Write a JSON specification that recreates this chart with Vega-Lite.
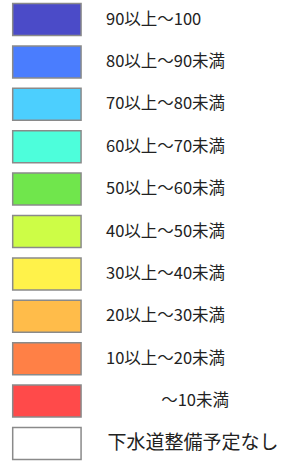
{
  "$schema": "https://vega.github.io/schema/vega-lite/v6.json",
  "width": 293,
  "height": 463,
  "autosize": {"type": "fit", "contains": "padding"},
  "padding": 0,
  "background": "white",
  "config": {"view": {"stroke": null}},
  "data": {
    "values": [
      {"row": 0, "label": "90以上～100", "color": "#4b4bc8"},
      {"row": 1, "label": "80以上～90未満", "color": "#4a7dfe"},
      {"row": 2, "label": "70以上～80未満", "color": "#4ccffe"},
      {"row": 3, "label": "60以上～70未満", "color": "#4dfedb"},
      {"row": 4, "label": "50以上～60未満", "color": "#70e64c"},
      {"row": 5, "label": "40以上～50未満", "color": "#cdfd46"},
      {"row": 6, "label": "30以上～40未満", "color": "#fff24a"},
      {"row": 7, "label": "20以上～30未満", "color": "#ffbc4a"},
      {"row": 8, "label": "10以上～20未満", "color": "#ff8046"},
      {"row": 9, "label": "～10未満", "color": "#ff4a4a"},
      {"row": 10, "label": "下水道整備予定なし", "color": "#ffffff"}
    ]
  },
  "encoding": {
    "y": {
      "field": "row",
      "type": "ordinal",
      "axis": null,
      "scale": {"paddingInner": 0.245, "paddingOuter": 0.083}
    }
  },
  "layer": [
    {
      "mark": {"type": "rect", "stroke": "#8a8a8a", "strokeWidth": 1.5},
      "encoding": {
        "x": {"datum": 13, "type": "quantitative", "scale": {"domain": [0, 293]}, "axis": null},
        "x2": {"datum": 83},
        "fill": {"field": "color", "type": "nominal", "scale": null}
      }
    },
    {
      "transform": [{"filter": "datum.row <= 8"}],
      "mark": {"type": "text", "align": "left", "baseline": "middle", "font": "Noto Sans CJK JP", "color": "#222222", "fontSize": 16.5},
      "encoding": {
        "x": {"datum": 108.5, "type": "quantitative"},
        "text": {"field": "label"}
      }
    },
    {
      "transform": [{"filter": "datum.row == 9"}],
      "mark": {"type": "text", "align": "left", "baseline": "middle", "font": "Noto Sans CJK JP", "color": "#222222", "fontSize": 16.5},
      "encoding": {
        "x": {"datum": 165, "type": "quantitative"},
        "text": {"field": "label"}
      }
    },
    {
      "transform": [{"filter": "datum.row == 10"}],
      "mark": {"type": "text", "align": "left", "baseline": "middle", "font": "Noto Sans CJK JP", "color": "#222222", "fontSize": 19},
      "encoding": {
        "x": {"datum": 110, "type": "quantitative"},
        "text": {"field": "label"}
      }
    }
  ]
}
